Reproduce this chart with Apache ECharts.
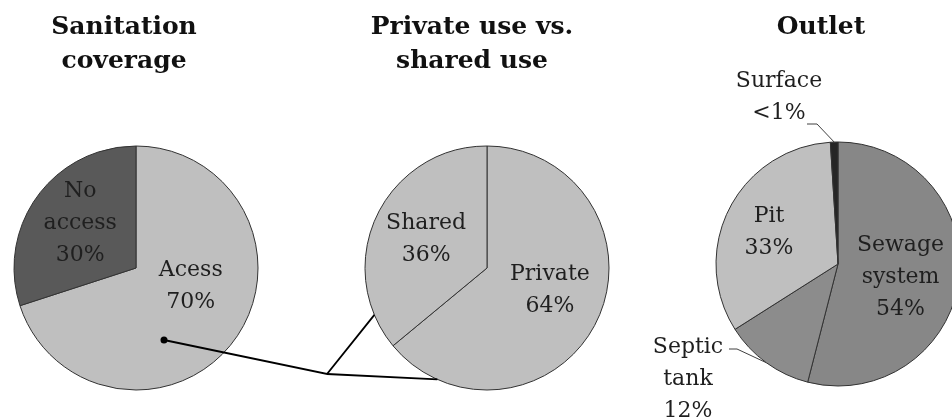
<!DOCTYPE html>
<html><head><meta charset="utf-8">
<script src="https://cdn.jsdelivr.net/npm/echarts@6/dist/echarts.min.js"></script>
<style>html,body{margin:0;padding:0;background:#fff}#c{width:952px;height:420px}</style>
</head><body><div id="c"></div>
<script>
// ---- data ----
const titles = ['Sanitation\ncoverage', 'Private use vs.\nshared use', 'Outlet'];
const coverageNames = ['Acess', 'No access'];
const coverageValues = [70, 30];
const coverageLabels = ['Acess\n70%', 'No\naccess\n30%'];
const useNames = ['Private', 'Shared'];
const useValues = [64, 36];
const useLabels = ['Private\n64%', 'Shared\n36%'];
const outletNames = ['Sewage system', 'Septic tank', 'Pit', 'Surface'];
const outletValues = [54, 12, 33, 1];
const outletLabels = ['Sewage\nsystem\n54%', 'Septic\ntank\n12%', 'Pit\n33%', 'Surface\n<1%'];

// ---- styles / layout ----
const R = 122;
const centers = [[136, 268], [487, 268], [838, 264]];
const titleX = [124, 472, 821];
const coverageColors = ['#bfbfbf', '#595959'];
const useColors = ['#bfbfbf', '#bfbfbf'];
const outletColors = ['#878787', '#8c8c8c', '#bfbfbf', '#262626'];
const FONT = '"DejaVu Serif", "Liberation Serif", serif';
const labelStyle = { color: '#1f1f1f', fontFamily: FONT, fontSize: 22, lineHeight: 32 };

function build(names, values, labels, colors, outside) {
  return names.map((n, i) => {
    const item = {
      name: n, value: values[i],
      itemStyle: { color: colors[i] },
      label: { formatter: labels[i] }
    };
    if (outside && outside[i]) {
      item.label.position = 'outside';
      item.labelLine = { show: true, lineStyle: { color: '#404040', width: 1 } };
    }
    return item;
  });
}

const shifts = [
  [[3, -19], [-4, -7]],
  [[5, -5], [-3, -1]],
  [[-1, 5], null, [-12, -3], null]
];

function pieSeries(idx, data) {
  return {
    type: 'pie',
    center: centers[idx],
    radius: [0, R],
    startAngle: 90,
    clockwise: true,
    avoidLabelOverlap: false,
    silent: true,
    animation: false,
    itemStyle: { borderColor: '#333333', borderWidth: 1 },
    label: Object.assign({ show: true, position: 'inside', align: 'center' }, labelStyle),
    labelLine: { show: false },
    data: data,
    labelLayout: function (p) {
      const s = shifts[idx][p.dataIndex];
      if (s) return { dx: s[0], dy: s[1] };
      if (idx === 2 && p.dataIndex === 1) {
        const a = p.labelLinePoints ? p.labelLinePoints[0] : [766, 363];
        const [cx, cy] = centers[2];
        return {
          x: cx - 150, y: cy + 115, align: 'center', verticalAlign: 'middle',
          labelLinePoints: [a, [cx - 101, cy + 85], [cx - 109, cy + 85]]
        };
      }
      if (idx === 2 && p.dataIndex === 3) {
        const a = p.labelLinePoints ? p.labelLinePoints[0] : [836, 142];
        const [cx, cy] = centers[2];
        return {
          x: cx - 59, y: cy - 167, align: 'center', verticalAlign: 'middle',
          labelLinePoints: [a, [cx - 21, cy - 140], [cx - 31, cy - 140]]
        };
      }
      return {};
    }
  };
}

// connector geometry (derived from the pie centres/radius)
const c1 = centers[0], c2 = centers[1];
const dot = [c1[0] + 28, c1[1] + 72];
const junction = [c2[0] - 160, c2[1] + 106];
function onEdge(c, degCwFromTop) {
  const t = (90 - degCwFromTop) * Math.PI / 180;
  return [c[0] + R * Math.cos(t), c[1] - R * Math.sin(t)];
}
const p1 = onEdge(c2, 247.4);
const p2 = onEdge(c2, 204);

const graphics = titles.map((t, i) => ({
  type: 'text', x: titleX[i], y: i === 2 ? 27 : 44,
  style: {
    text: t, fill: '#111', fontFamily: FONT, fontSize: 25, fontWeight: 'bold',
    lineHeight: 34, align: 'center', textAlign: 'center',
    verticalAlign: 'middle', textVerticalAlign: 'middle'
  }
}));
graphics.push(
  { type: 'polyline', z: 100, shape: { points: [dot, junction, p1] }, style: { stroke: '#000', lineWidth: 1.8, fill: null } },
  { type: 'polyline', z: 100, shape: { points: [junction, p2] }, style: { stroke: '#000', lineWidth: 1.8, fill: null } },
  { type: 'circle', z: 101, shape: { cx: dot[0], cy: dot[1], r: 3.5 }, style: { fill: '#000' } }
);

const chart = echarts.init(document.getElementById('c'), null, { renderer: 'canvas' });
chart.setOption({
  backgroundColor: '#fff',
  animation: false,
  graphic: graphics,
  series: [
    pieSeries(0, build(coverageNames, coverageValues, coverageLabels, coverageColors)),
    pieSeries(1, build(useNames, useValues, useLabels, useColors)),
    pieSeries(2, build(outletNames, outletValues, outletLabels, outletColors, [false, true, false, true]))
  ]
});
</script>
</body></html>
